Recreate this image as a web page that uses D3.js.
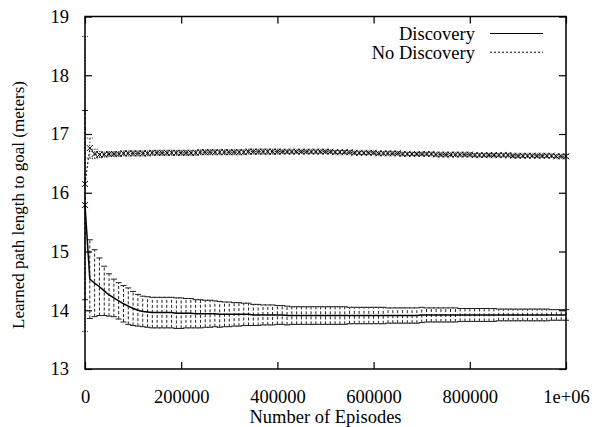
<!DOCTYPE html>
<html>
<head>
<meta charset="utf-8">
<script src="https://cdn.jsdelivr.net/npm/d3@7"></script>
<style>
  body { margin: 0; background: #fff; }
  svg text { font-family: "Liberation Serif", "DejaVu Serif", Times, serif; font-size: 18.5px; fill: #000; }
</style>
</head>
<body>
<div id="chart"></div>
<script>
// sampling grid: one averaged point every 10000 episodes
const episodes = d3.range(0, 1000001, 10000);

const seriesNames = ["Discovery", "No Discovery"];

// Discovery: mean and error half-width per sample
const discMean = [
  15.79, 14.53, 14.46, 14.40, 14.33, 14.26, 14.21, 14.16, 14.11, 14.07,
  14.03, 14.00, 13.98, 13.97, 13.96, 13.96, 13.96, 13.96, 13.96, 13.95,
  13.95, 13.95, 13.95, 13.94, 13.94, 13.94, 13.94, 13.94, 13.93, 13.93,
  13.93, 13.93, 13.93, 13.93, 13.93, 13.92, 13.92, 13.92, 13.92, 13.92,
  13.92, 13.92, 13.91, 13.91, 13.91, 13.91, 13.91, 13.91, 13.91, 13.91,
  13.91, 13.91, 13.91, 13.91, 13.91, 13.91, 13.91, 13.91, 13.91, 13.91,
  13.91, 13.91, 13.91, 13.91, 13.91, 13.91, 13.91, 13.91, 13.91, 13.91,
  13.92, 13.92, 13.92, 13.92, 13.92, 13.92, 13.92, 13.92, 13.92, 13.92,
  13.92, 13.92, 13.92, 13.92, 13.92, 13.92, 13.92, 13.92, 13.92, 13.92,
  13.92, 13.92, 13.92, 13.92, 13.92, 13.92, 13.92, 13.92, 13.92, 13.92,
  13.92
];
const discErr = [
  1.61, 0.67, 0.57, 0.49, 0.42, 0.36, 0.32, 0.31, 0.31, 0.31,
  0.29, 0.27, 0.26, 0.26, 0.26, 0.26, 0.26, 0.26, 0.26, 0.26,
  0.26, 0.25, 0.25, 0.24, 0.24, 0.23, 0.23, 0.22, 0.22, 0.21,
  0.21, 0.20, 0.20, 0.19, 0.19, 0.18, 0.18, 0.17, 0.17, 0.17,
  0.16, 0.16, 0.16, 0.15, 0.15, 0.15, 0.15, 0.15, 0.15, 0.15,
  0.15, 0.15, 0.15, 0.15, 0.15, 0.14, 0.14, 0.14, 0.14, 0.14,
  0.14, 0.14, 0.14, 0.13, 0.13, 0.13, 0.13, 0.13, 0.13, 0.13,
  0.13, 0.12, 0.12, 0.12, 0.12, 0.12, 0.12, 0.12, 0.11, 0.11,
  0.11, 0.11, 0.11, 0.11, 0.11, 0.11, 0.10, 0.10, 0.10, 0.10,
  0.10, 0.10, 0.10, 0.10, 0.10, 0.10, 0.10, 0.09, 0.09, 0.09,
  0.09
];

// No Discovery: mean and error half-width per sample
const noDiscMean = [
  16.15, 16.76, 16.66, 16.65, 16.65, 16.66, 16.66, 16.66, 16.67, 16.67,
  16.67, 16.67, 16.67, 16.67, 16.68, 16.68, 16.68, 16.68, 16.68, 16.68,
  16.68, 16.68, 16.68, 16.68, 16.69, 16.69, 16.69, 16.69, 16.69, 16.69,
  16.69, 16.69, 16.69, 16.69, 16.70, 16.70, 16.70, 16.70, 16.70, 16.70,
  16.70, 16.70, 16.70, 16.70, 16.70, 16.70, 16.70, 16.70, 16.70, 16.70,
  16.70, 16.70, 16.69, 16.69, 16.69, 16.69, 16.68, 16.68, 16.68, 16.68,
  16.68, 16.67, 16.67, 16.67, 16.67, 16.67, 16.66, 16.66, 16.66, 16.66,
  16.66, 16.66, 16.66, 16.65, 16.65, 16.65, 16.65, 16.65, 16.65, 16.65,
  16.65, 16.64, 16.64, 16.64, 16.64, 16.64, 16.64, 16.64, 16.64, 16.63,
  16.63, 16.63, 16.63, 16.63, 16.63, 16.63, 16.63, 16.63, 16.62, 16.62,
  16.62
];
const noDiscErr = [
  2.51, 0.17, 0.08, 0.05, 0.04, 0.04, 0.04, 0.04, 0.04, 0.04,
  0.04, 0.04, 0.04, 0.04, 0.04, 0.04, 0.04, 0.04, 0.04, 0.04,
  0.04, 0.04, 0.04, 0.04, 0.04, 0.04, 0.04, 0.04, 0.04, 0.04,
  0.04, 0.04, 0.04, 0.04, 0.04, 0.04, 0.04, 0.04, 0.04, 0.04,
  0.04, 0.03, 0.03, 0.03, 0.03, 0.03, 0.03, 0.03, 0.03, 0.03,
  0.03, 0.03, 0.03, 0.03, 0.03, 0.03, 0.03, 0.03, 0.03, 0.03,
  0.03, 0.03, 0.03, 0.03, 0.03, 0.03, 0.03, 0.03, 0.03, 0.03,
  0.03, 0.03, 0.03, 0.03, 0.03, 0.03, 0.03, 0.03, 0.03, 0.03,
  0.03, 0.03, 0.03, 0.03, 0.03, 0.03, 0.03, 0.03, 0.03, 0.03,
  0.03, 0.03, 0.03, 0.03, 0.03, 0.03, 0.03, 0.03, 0.03, 0.03,
  0.03
];

const xTicks = [0, 200000, 400000, 600000, 800000, 1000000];
const xTickLabels = ["0", "200000", "400000", "600000", "800000", "1e+06"];
const yTicks = [13, 14, 15, 16, 17, 18, 19];

(function () {
  const W = 596, H = 427;
  const left = 85, right = 566, top = 16.5, bottom = 369;
  const FONT = '"Liberation Serif", "DejaVu Serif", Times, serif';

  const svg = d3.select("#chart").append("svg")
    .attr("width", W).attr("height", H)
    .attr("font-family", FONT);

  const x = d3.scaleLinear().domain([0, 1000000]).range([left, right]);
  const y = d3.scaleLinear().domain([13, 19]).range([bottom, top]);

  const series = [
    { name: seriesNames[0], mean: discMean, err: discErr, dash: null, barDash: "3,2", barColor: "#222", pointEvery: 1000 },
    { name: seriesNames[1], mean: noDiscMean, err: noDiscErr, dash: "2,2", barDash: "1.5,1.5", barColor: "#444", pointEvery: 1 }
  ];

  const plot = svg.append("g");
  const cap = 3;

  series.forEach(s => {
    const pts = episodes.map((e, i) => ({ e, m: s.mean[i], d: s.err[i], i }));
    const g = plot.append("g");

    // error bars
    g.selectAll("line.bar").data(pts).enter().append("line")
      .attr("x1", d => x(d.e)).attr("x2", d => x(d.e))
      .attr("y1", d => y(d.m - d.d)).attr("y2", d => y(d.m + d.d))
      .attr("stroke", s.barColor).attr("stroke-width", 1)
      .attr("stroke-dasharray", s.barDash);
    ["lo", "hi"].forEach(k => {
      g.selectAll("line.cap" + k).data(pts).enter().append("line")
        .attr("x1", d => x(d.e) - cap).attr("x2", d => x(d.e) + cap)
        .attr("y1", d => y(k === "lo" ? d.m - d.d : d.m + d.d))
        .attr("y2", d => y(k === "lo" ? d.m - d.d : d.m + d.d))
        .attr("stroke", s.barColor).attr("stroke-width", 1)
        .attr("stroke-dasharray", s.dash ? "1.5,1" : null);
    });

    // mean line
    g.append("path")
      .datum(pts)
      .attr("d", d3.line().x(d => x(d.e)).y(d => y(d.m)))
      .attr("fill", "none").attr("stroke", "#000")
      .attr("stroke-width", s.dash ? 1 : 1.5)
      .attr("stroke-dasharray", s.dash);

    // x markers
    g.selectAll("path.pt").data(pts.filter(d => d.i % s.pointEvery === 0)).enter().append("path")
      .attr("transform", d => `translate(${x(d.e)},${y(d.m)})`)
      .attr("d", "M-3,-3L3,3M-3,3L3,-3")
      .attr("stroke", "#000").attr("stroke-width", 1).attr("fill", "none");
  });

  // axes with inward ticks
  svg.append("g").attr("transform", `translate(0,${bottom})`)
    .call(d3.axisBottom(x).tickValues(xTicks).tickSize(-7).tickPadding(21)
      .tickFormat((d, i) => xTickLabels[i]));
  svg.append("g").attr("transform", `translate(0,${top})`)
    .call(d3.axisTop(x).tickValues(xTicks).tickSize(-7).tickFormat(""));
  svg.append("g").attr("transform", `translate(${left},0)`)
    .call(d3.axisLeft(y).tickValues(yTicks).tickSize(-7).tickPadding(16).tickFormat(d3.format("d")));
  svg.append("g").attr("transform", `translate(${right},0)`)
    .call(d3.axisRight(y).tickValues(yTicks).tickSize(-7).tickFormat(""));

  svg.selectAll(".domain").remove();
  svg.selectAll(".tick line").attr("stroke", "#000").attr("stroke-width", 1.2);
  svg.selectAll("g").attr("font-family", FONT).attr("font-size", 18.5);

  // frame
  svg.append("rect")
    .attr("x", left).attr("y", top)
    .attr("width", right - left).attr("height", bottom - top)
    .attr("fill", "none").attr("stroke", "#000").attr("stroke-width", 1.5);

  // axis titles
  svg.append("text")
    .attr("x", (left + right) / 2).attr("y", 423)
    .attr("text-anchor", "middle")
    .text("Number of Episodes");
  svg.append("text")
    .attr("transform", `translate(24,205) rotate(-90)`)
    .attr("text-anchor", "middle")
    .style("font-size", "17px")
    .text("Learned path length to goal (meters)");

  // legend
  const legend = svg.append("g");
  series.forEach((s, i) => {
    const yy = 40 + i * 18.7;
    legend.append("text")
      .attr("x", 475).attr("y", yy)
      .attr("text-anchor", "end")
      .text(s.name);
    legend.append("line")
      .attr("x1", 490).attr("x2", 543)
      .attr("y1", yy - 6.5).attr("y2", yy - 6.5)
      .attr("stroke", "#000").attr("stroke-width", 1)
      .attr("stroke-dasharray", s.dash);
  });
})();
</script>
</body>
</html>
